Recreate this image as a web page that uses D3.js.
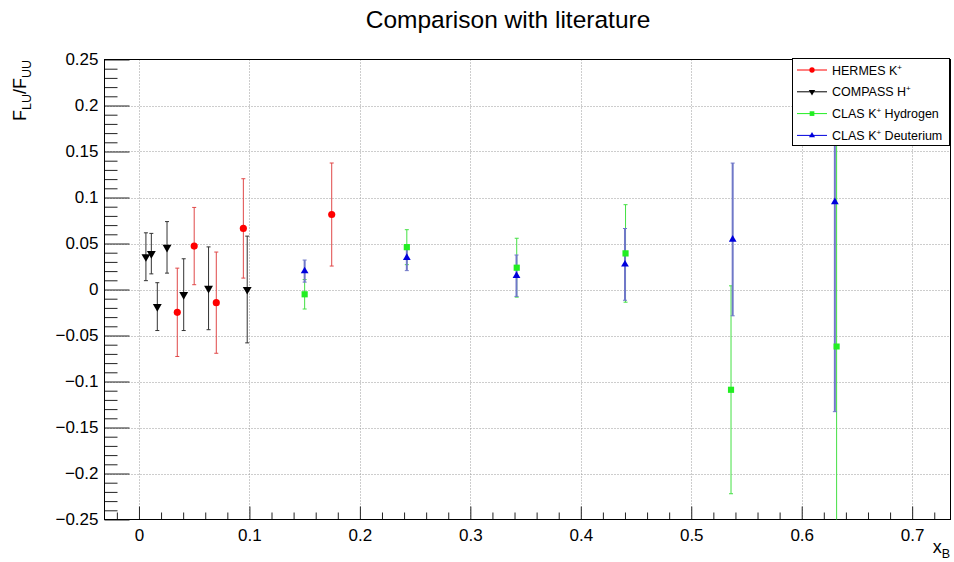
<!DOCTYPE html>
<html>
<head>
<meta charset="utf-8">
<script src="https://cdn.jsdelivr.net/npm/d3@7"></script>
<style>
    body { margin: 0; background: #fff; }
    svg { display: block; font-family: "Liberation Sans", Arial, Helvetica, sans-serif; }
</style>
</head>
<body>
<svg id="chart" width="954" height="562"></svg>
<script>
// values
const hermesX = [0.0347, 0.050, 0.070, 0.0945, 0.1745]
const hermesY = [-0.0248, 0.0472, -0.0143, 0.0664, 0.0815]
const hermesErr = [0.048, 0.042, 0.055, 0.054, 0.056]

const compassX = [0.0063, 0.0112, 0.0166, 0.0254, 0.0405, 0.063, 0.098]
const compassY = [0.0356, 0.0390, -0.0186, 0.0458, -0.0056, 0.0013, 0.0]
const compassErr = [0.026, 0.022, 0.026, 0.028, 0.039, 0.045, 0.058]

const clasHX = [0.150, 0.2425, 0.342, 0.4405, 0.536, 0.6316]
const clasHY = [-0.0052, 0.046, 0.0237, 0.0392, -0.109, -0.062]
const clasHErr = [0.016, 0.019, 0.032, 0.053, 0.113, 0.25]

const clasDX = [0.150, 0.2425, 0.3418, 0.440, 0.5375, 0.630]
const clasDY = [0.020, 0.0345, 0.015, 0.0273, 0.0544, 0.0952]
const clasDErr = [0.012, 0.014, 0.0225, 0.039, 0.083, 0.228]

const xTicks = [0, 0.1, 0.2, 0.3, 0.4, 0.5, 0.6, 0.7]
const yTicks = [-0.25, -0.2, -0.15, -0.1, -0.05, 0, 0.05, 0.1, 0.15, 0.2, 0.25]
const legendLabels = [["HERMES K", "+", ""], ["COMPASS H", "+", ""], ["CLAS K", "+", " Hydrogen"], ["CLAS K", "+", " Deuterium"]]

const TITLE = "Comparison with literature"
const X_DOMAIN = [-0.0312, 0.7347]
const Y_DOMAIN = [-0.25, 0.25]

const series = [
    {x: hermesX, y: hermesY, err: hermesErr, color: "#ff0000", bar: "#e04848", barWidth: 1, symbol: d3.symbolCircle, size: 40, legendSize: 22, rotate: 0},
    {x: compassX, y: compassY, err: compassErr, color: "#000000", bar: "#333333", barWidth: 1, symbol: d3.symbolTriangle, size: 34, legendSize: 18, rotate: 180},
    {x: clasHX, y: clasHY, err: clasHErr, color: "#22ee22", bar: "#44e044", barWidth: 1, symbol: d3.symbolSquare, size: 38, legendSize: 22, rotate: 0},
    {x: clasDX, y: clasDY, err: clasDErr, color: "#0000dd", bar: "#7078c8", barWidth: 2, symbol: d3.symbolTriangle, size: 26, legendSize: 16, rotate: 0}
]

const svg = d3.select("#chart")

const frame = {left: 104.5, right: 950.5, top: 59.5, bottom: 519.5}

const x = d3.scaleLinear().domain(X_DOMAIN).range([frame.left, frame.right])
const y = d3.scaleLinear().domain(Y_DOMAIN).range([frame.bottom, frame.top])

svg.append("defs").append("clipPath").attr("id", "frameClip")
    .append("rect")
    .attr("x", frame.left).attr("y", frame.top)
    .attr("width", frame.right - frame.left).attr("height", frame.bottom - frame.top)

// grid
const grid = svg.append("g").attr("stroke", "#9a9a9a").attr("stroke-width", 1).attr("stroke-dasharray", "1,2")
grid.selectAll("line.vgrid")
    .data(xTicks)
    .enter()
    .append("line")
    .attr("x1", d => Math.round(x(d)) + 0.5).attr("x2", d => Math.round(x(d)) + 0.5)
    .attr("y1", frame.top).attr("y2", frame.bottom)
grid.selectAll("line.hgrid")
    .data(yTicks.filter(d => Math.abs(d) < 0.25))
    .enter()
    .append("line")
    .attr("y1", d => Math.round(y(d)) + 0.5).attr("y2", d => Math.round(y(d)) + 0.5)
    .attr("x1", frame.left).attr("x2", frame.right)

// axes, ticks point into the frame like ROOT does
const xMinor = d3.range(-0.02, 0.7201, 0.02).filter(v => Math.abs(v * 10 - Math.round(v * 10)) > 1e-6)
const yMinor = d3.range(-0.25, 0.2501, 0.01).filter(v => Math.abs(v * 20 - Math.round(v * 20)) > 1e-6)

const xAxis = svg.append("g")
    .attr("transform", `translate(0,${frame.bottom})`)
    .call(d3.axisBottom(x).tickValues(xTicks).tickFormat(d3.format("")).tickSizeInner(-13).tickSizeOuter(0).tickPadding(9))
svg.append("g")
    .attr("transform", `translate(0,${frame.bottom})`)
    .call(d3.axisBottom(x).tickValues(xMinor).tickFormat("").tickSizeInner(-7).tickSizeOuter(0))

const yAxis = svg.append("g")
    .attr("transform", `translate(${frame.left},0)`)
    .call(d3.axisLeft(y).tickValues(yTicks).tickFormat(d => d3.format("")(d).replace("-", "\u2212")).tickSizeInner(-25).tickSizeOuter(0).tickPadding(6))
svg.append("g")
    .attr("transform", `translate(${frame.left},0)`)
    .call(d3.axisLeft(y).tickValues(yMinor).tickFormat("").tickSizeInner(-13).tickSizeOuter(0))

svg.selectAll(".domain").remove()
svg.selectAll(".tick line").attr("stroke", "#222")
svg.selectAll(".tick text").attr("font-size", 17).attr("font-family", null).attr("fill", "#000")

// frame
svg.append("rect")
    .attr("x", frame.left).attr("y", frame.top)
    .attr("width", frame.right - frame.left).attr("height", frame.bottom - frame.top)
    .attr("fill", "none").attr("stroke", "#000")

// error bars and markers
const plot = svg.append("g").attr("clip-path", "url(#frameClip)")

series.forEach(s => {
    const pts = s.x.map((v, i) => ({x: v, y: s.y[i], e: s.err[i]}))
    const g = plot.append("g")
    g.selectAll("line.bar")
        .data(pts)
        .enter()
        .append("line")
        .attr("x1", d => x(d.x)).attr("x2", d => x(d.x))
        .attr("y1", d => y(d.y - d.e)).attr("y2", d => y(d.y + d.e))
        .attr("stroke", s.bar).attr("stroke-width", s.barWidth)
    g.selectAll("line.capTop")
        .data(pts)
        .enter()
        .append("line")
        .attr("x1", d => x(d.x) - 2).attr("x2", d => x(d.x) + 2)
        .attr("y1", d => y(d.y + d.e)).attr("y2", d => y(d.y + d.e))
        .attr("stroke", s.bar)
    g.selectAll("line.capBottom")
        .data(pts)
        .enter()
        .append("line")
        .attr("x1", d => x(d.x) - 2).attr("x2", d => x(d.x) + 2)
        .attr("y1", d => y(d.y - d.e)).attr("y2", d => y(d.y - d.e))
        .attr("stroke", s.bar)
})

series.forEach(s => {
    const pts = s.x.map((v, i) => ({x: v, y: s.y[i]}))
    plot.append("g").selectAll("path")
        .data(pts)
        .enter()
        .append("path")
        .attr("d", d3.symbol().type(s.symbol).size(s.size))
        .attr("transform", d => `translate(${x(d.x)},${y(d.y)}) rotate(${s.rotate})`)
        .attr("fill", s.color)
})

// legend
const legend = svg.append("g")
legend.append("rect")
    .attr("x", 792.5).attr("y", 58.5).attr("width", 157).attr("height", 87)
    .attr("fill", "#fff").attr("stroke", "#000")

const rows = legend.selectAll("g.entry")
    .data(series)
    .enter()
    .append("g")
    .attr("transform", (d, i) => `translate(0,${70 + i * 21.8})`)

rows.append("line")
    .attr("x1", 797).attr("x2", 827).attr("y1", 0).attr("y2", 0)
    .attr("stroke", d => d.color)
rows.append("path")
    .attr("d", d => d3.symbol().type(d.symbol).size(d.legendSize)())
    .attr("transform", d => `translate(812,0) rotate(${d.rotate})`)
    .attr("fill", d => d.color)

const labels = rows.append("text")
    .attr("x", 832).attr("y", 4.5)
    .attr("font-size", 12.5)
labels.append("tspan").text((d, i) => legendLabels[i][0])
labels.append("tspan").attr("font-size", 8).attr("dy", -5).text((d, i) => legendLabels[i][1])
labels.append("tspan").attr("dy", 5).text((d, i) => legendLabels[i][2])

// titles
svg.append("text")
    .attr("x", 508).attr("y", 28)
    .attr("text-anchor", "middle")
    .attr("font-size", 24.5)
    .text(TITLE)

const yLabel = svg.append("text")
    .attr("transform", "translate(25.5,60) rotate(-90)")
    .attr("text-anchor", "end")
    .attr("font-size", 18)
yLabel.append("tspan").text("F")
yLabel.append("tspan").attr("font-size", 12.5).attr("dy", 5).text("LU")
yLabel.append("tspan").attr("dy", -5).text("/F")
yLabel.append("tspan").attr("font-size", 12.5).attr("dy", 5).text("UU")

const xLabel = svg.append("text")
    .attr("x", 950).attr("y", 553)
    .attr("text-anchor", "end")
    .attr("font-size", 18)
xLabel.append("tspan").text("x")
xLabel.append("tspan").attr("font-size", 12.5).attr("dy", 5).text("B")
</script>
</body>
</html>
